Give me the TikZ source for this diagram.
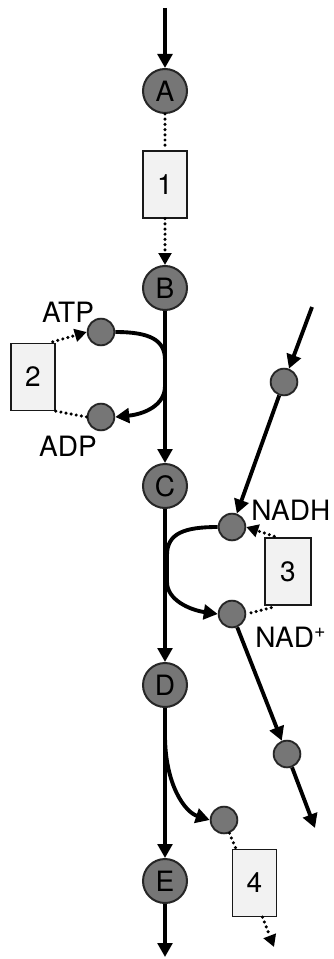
\documentclass[tikz,border=0pt]{standalone}
\usepackage{fontspec}
\setmainfont{TeX Gyre Heros}
\usetikzlibrary{arrows.meta}
\definecolor{nodegray}{HTML}{767676}
\definecolor{boxfill}{HTML}{F2F2F2}
\tikzset{
  big/.style={circle,draw=black!85,line width=1.5pt,fill=nodegray,minimum size=33pt,inner sep=0pt,font=\fontsize{21}{24}\selectfont},
  small/.style={circle,draw=black!85,line width=1.4pt,fill=nodegray,minimum size=20pt,inner sep=0pt},
  enz/.style={rectangle,draw=black!90,line width=1.2pt,fill=boxfill,minimum width=33pt,minimum height=50pt,inner sep=0pt,font=\fontsize{21}{24}\selectfont},
  lab/.style={inner sep=0pt,font=\fontsize{21}{24}\selectfont},
  flow/.style={line width=2.9pt,-{Triangle[length=10.5pt,width=11pt]}},
  flown/.style={line width=2.9pt},
  dots/.style={line width=2.6pt,line cap=round,dash pattern=on 0pt off 3.9pt,-{Triangle[length=9pt,width=9.5pt]}},
  dotsn/.style={line width=2.6pt,line cap=round,dash pattern=on 0pt off 3.9pt},
}
\begin{document}
\begin{tikzpicture}[x=0.75pt,y=-0.75pt]
\fill[white] (0,0) rectangle (333,959);
\useasboundingbox (0,0) rectangle (333,959);
% main nodes
\node[big] (A) at (165,91) {A};
\node[big] (B) at (165,288) {B};
\node[big] (C) at (165,486) {C};
\node[big] (D) at (165,685) {D};
\node[big] (E) at (165,881) {E};
\node[enz] (e1) at (165,184.5) {1};
\node[enz] (e2) at (33,377) {2};
\node[enz,minimum width=34.5pt] (e3) at (288,571.5) {3};
\node[enz] (e4) at (254.5,883) {4};
% small nodes
\node[small] (atp) at (101,332) {};
\node[small] (adp) at (101,417) {};
\node[small] (s3) at (284,382) {};
\node[small] (nadh) at (232,527) {};
\node[small] (nad) at (232,614) {};
\node[small] (s6) at (287,754) {};
\node[small] (s7) at (224,820) {};
% labels
\node[lab] (tATP) at (68,312) {ATP};
\node[lab] (tADP) at (68,446) {ADP};
\node[lab,anchor=west] (tNADH) at (251,510) {NADH};
\node[lab,anchor=west] (tNAD) at (255,637) {NAD\textsuperscript{+}};
% coordinates
\coordinate (top) at (165,8);
\coordinate (bot) at (165,957);
\coordinate (rtop) at (312,307);
\coordinate (rbot) at (315,828);
\coordinate (e4in) at (236,849);
\coordinate (e4out) at (274,947);
% main chain
\draw[flow] (top) -- (A);
\draw[dotsn] (A) -- (e1);
\draw[dots] (e1) -- (B);
\draw[flow] (B) -- (C);
\draw[flow] (C) -- (D);
\draw[flow] (D) -- (E);
\draw[flow] (E) -- (bot);
% ATP / ADP
\draw[flown] (atp.east) .. controls (150,332) and (165,340) .. (165,360);
\draw[flow] (165,386) .. controls (165,405) and (145,414) .. (adp.east);
\draw[dots] (e2.north east) ++(-3,-1) -- (atp.west);
\draw[dotsn] (e2.south east) -- (adp.west);
% NADH / NAD+
\draw[flown] (nadh.west) .. controls (185,527) and (167,533) .. (167,555);
\draw[flown] (167,555) -- (167,582);
\draw[flow] (167,582) .. controls (167,600) and (190,610) .. (nad.west);
\draw[dots] (e3.north west) ++(10,-1) -- (nadh.east);
\draw[dotsn] (e3.south west) ++(7,2) -- (nad.east);
% right side chain
\draw[flow] (rtop) -- (s3);
\draw[flow] (s3) -- (nadh);
\draw[flow] (nad) -- (s6);
\draw[flow] (s6) -- (rbot);
% D branch
\draw[flow] (165,735) .. controls (165,785) and (185,812) .. (s7.west);
\draw[dotsn] (s7) -- (e4in);
\draw[dots] (e4.south) ++(8,0) -- (e4out);
\end{tikzpicture}
\end{document}
